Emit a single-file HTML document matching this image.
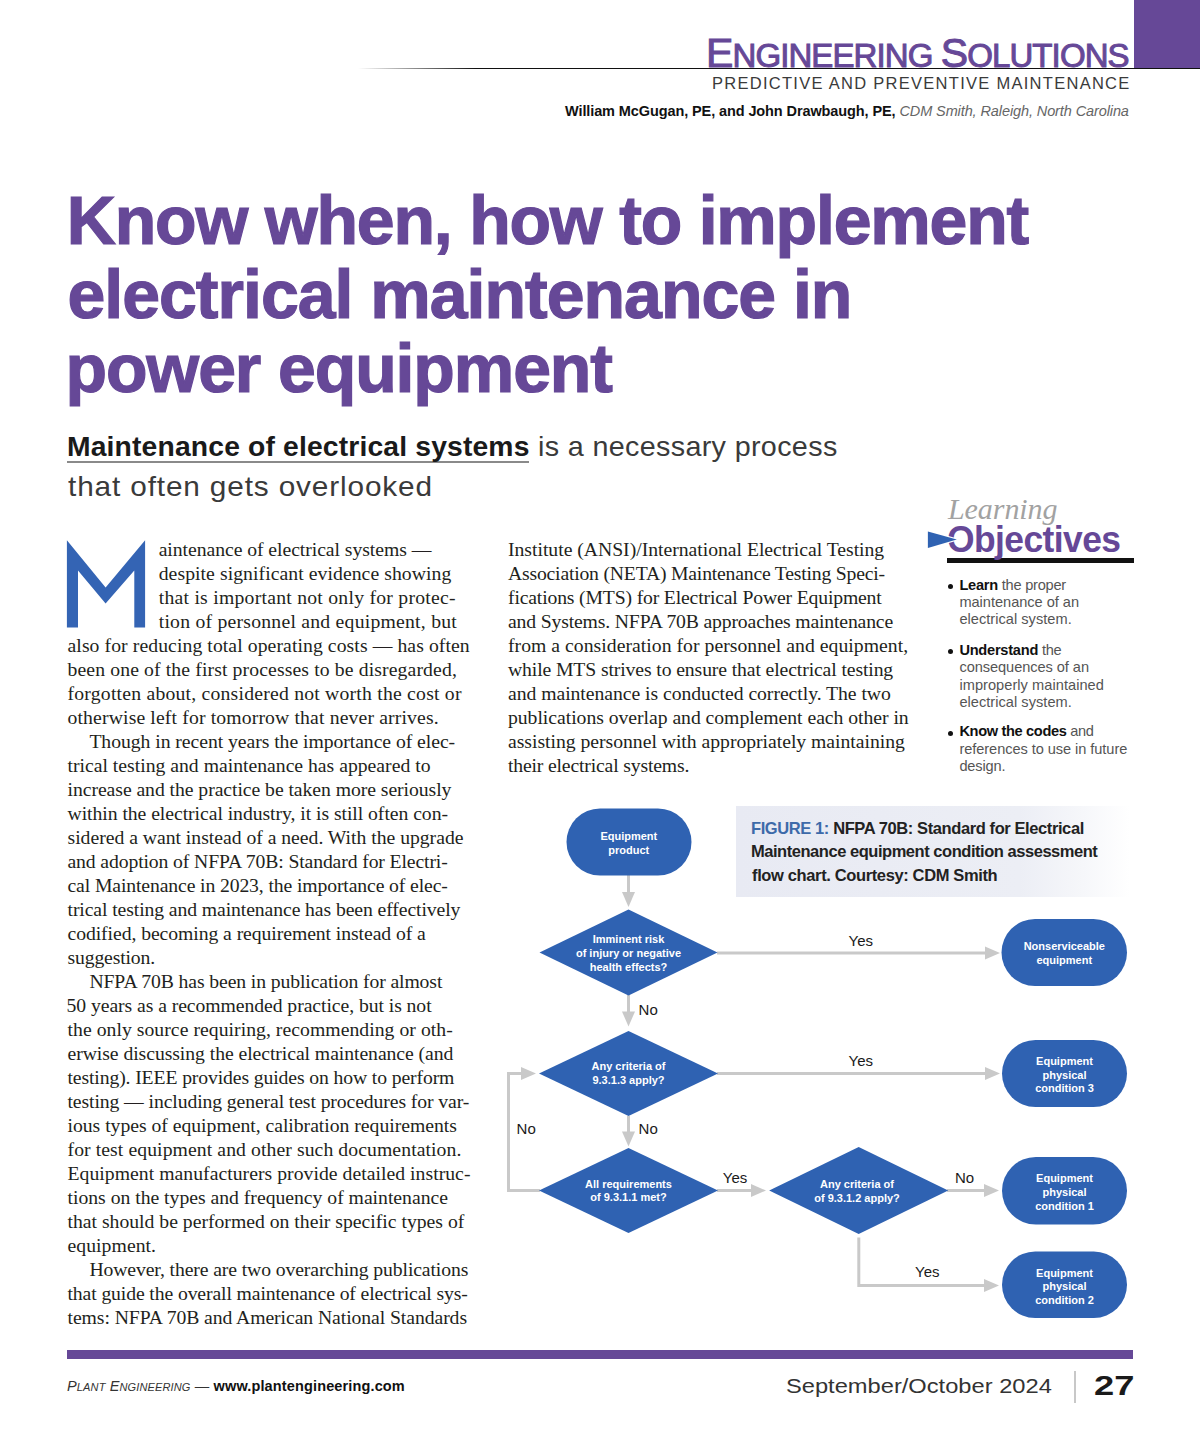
<!DOCTYPE html>
<html><head><meta charset="utf-8"><title>Know when, how to implement electrical maintenance in power equipment</title>
<style>
html,body{margin:0;padding:0;background:#fff;}
body{width:1200px;height:1450px;position:relative;overflow:hidden;}
.t{position:absolute;white-space:pre;line-height:1;}
.r{text-align:right;}
svg{position:absolute;left:0;top:0;}
</style></head><body>

<div style="position:absolute;left:1134px;top:0;width:66px;height:68px;background:#664897"></div>
<div style="position:absolute;left:358px;top:67.5px;width:842px;height:1.6px;background:linear-gradient(90deg,rgba(20,20,20,0),#111 14%,#111)"></div>
<div style="position:absolute;left:736px;top:806px;width:394px;height:91px;background:linear-gradient(90deg,#e8eaf3 0%,#eceef5 72%,#f6f7fa 88%,#fff 100%)"></div>
<div style="position:absolute;left:67px;top:461px;width:462px;height:1.5px;background:#8a8a8a"></div>
<div style="position:absolute;left:947px;top:558px;width:187px;height:5px;background:#111"></div>
<div style="position:absolute;left:948px;top:583.5px;width:5px;height:5px;border-radius:50%;background:#111"></div>
<div style="position:absolute;left:948px;top:648.5px;width:5px;height:5px;border-radius:50%;background:#111"></div>
<div style="position:absolute;left:948px;top:730.5px;width:5px;height:5px;border-radius:50%;background:#111"></div>
<div style="position:absolute;left:67px;top:1350px;width:1066px;height:9px;background:#664897"></div>
<div style="position:absolute;left:1074px;top:1371px;width:1.5px;height:32px;background:#c8c8c8"></div>
<svg width="1200" height="1450" viewBox="0 0 1200 1450" style="position:absolute;left:0;top:0">
<polygon points="66.9,627.6 66.9,540.3 105.6,587.5 145.1,540.3 145.1,627.6 134.3,627.6 134.3,570.6 105.6,603.6 78,570.6 78,627.6" fill="#3464b4"/>
<polyline points="628.5,875.0 628.5,893.0" fill="none" stroke="#c9c9c9" stroke-width="3"/><polygon points="628.5,907.0 622.0,892.0 635.0,892.0" fill="#c9c9c9"/><polyline points="717.0,953.0 986.0,953.0" fill="none" stroke="#c9c9c9" stroke-width="3"/><polygon points="1000.0,953.0 985.0,946.5 985.0,959.5" fill="#c9c9c9"/><polyline points="628.5,995.0 628.5,1012.0" fill="none" stroke="#c9c9c9" stroke-width="3"/><polygon points="628.5,1026.5 622.0,1011.5 635.0,1011.5" fill="#c9c9c9"/><polyline points="717.0,1073.5 986.0,1073.5" fill="none" stroke="#c9c9c9" stroke-width="3"/><polygon points="1000.0,1073.5 985.0,1067.0 985.0,1080.0" fill="#c9c9c9"/><polyline points="628.5,1116.0 628.5,1132.0" fill="none" stroke="#c9c9c9" stroke-width="3"/><polygon points="628.5,1146.5 622.0,1131.5 635.0,1131.5" fill="#c9c9c9"/><polyline points="540.0,1190.5 508.5,1190.5 508.5,1073.5 522.0,1073.5" fill="none" stroke="#c9c9c9" stroke-width="3"/><polygon points="536.0,1073.5 521.0,1067.0 521.0,1080.0" fill="#c9c9c9"/><polyline points="717.0,1190.5 752.0,1190.5" fill="none" stroke="#c9c9c9" stroke-width="3"/><polygon points="766.0,1190.5 751.0,1184.0 751.0,1197.0" fill="#c9c9c9"/><polyline points="947.0,1190.5 985.0,1190.5" fill="none" stroke="#c9c9c9" stroke-width="3"/><polygon points="999.0,1190.5 984.0,1184.0 984.0,1197.0" fill="#c9c9c9"/><polyline points="858.8,1237.5 858.8,1285.5 985.0,1285.5" fill="none" stroke="#c9c9c9" stroke-width="3"/><polygon points="999.0,1285.5 984.0,1279.0 984.0,1292.0" fill="#c9c9c9"/><rect x="566.5" y="808.5" width="125.0" height="67.0" rx="33.5" fill="#2f62b2"/><polygon points="539.5,952.5 628.5,909.5 717.5,952.5 628.5,995.5" fill="#2f62b2"/><rect x="1001.5" y="919.0" width="125.5" height="67.0" rx="33.5" fill="#2f62b2"/><polygon points="539.0,1073.5 628.5,1031.0 718.0,1073.5 628.5,1116.0" fill="#2f62b2"/><rect x="1002.0" y="1040.0" width="125.0" height="67.0" rx="33.5" fill="#2f62b2"/><polygon points="539.0,1190.5 628.5,1148.0 718.0,1190.5 628.5,1233.0" fill="#2f62b2"/><polygon points="769.2,1190.5 858.7,1147.0 948.2,1190.5 858.7,1234.0" fill="#2f62b2"/><rect x="1002.0" y="1157.0" width="125.0" height="67.5" rx="33.8" fill="#2f62b2"/><rect x="1002.0" y="1251.5" width="125.0" height="66.5" rx="33.2" fill="#2f62b2"/><text x="628.8" y="840.3" text-anchor="middle" font-family="Liberation Sans" font-weight="700" font-size="11" fill="#fff">Equipment</text><text x="628.8" y="854.2" text-anchor="middle" font-family="Liberation Sans" font-weight="700" font-size="11" fill="#fff">product</text><text x="628.5" y="942.8" text-anchor="middle" font-family="Liberation Sans" font-weight="700" font-size="11" fill="#fff">Imminent risk</text><text x="628.5" y="956.8" text-anchor="middle" font-family="Liberation Sans" font-weight="700" font-size="11" fill="#fff">of injury or negative</text><text x="628.5" y="970.8" text-anchor="middle" font-family="Liberation Sans" font-weight="700" font-size="11" fill="#fff">health effects?</text><text x="1064.3" y="949.5" text-anchor="middle" font-family="Liberation Sans" font-weight="700" font-size="11" fill="#fff">Nonserviceable</text><text x="1064.3" y="963.5" text-anchor="middle" font-family="Liberation Sans" font-weight="700" font-size="11" fill="#fff">equipment</text><text x="628.5" y="1070.0" text-anchor="middle" font-family="Liberation Sans" font-weight="700" font-size="11" fill="#fff">Any criteria of</text><text x="628.5" y="1084.0" text-anchor="middle" font-family="Liberation Sans" font-weight="700" font-size="11" fill="#fff">9.3.1.3 apply?</text><text x="1064.5" y="1064.8" text-anchor="middle" font-family="Liberation Sans" font-weight="700" font-size="11" fill="#fff">Equipment</text><text x="1064.5" y="1078.5" text-anchor="middle" font-family="Liberation Sans" font-weight="700" font-size="11" fill="#fff">physical</text><text x="1064.5" y="1092.2" text-anchor="middle" font-family="Liberation Sans" font-weight="700" font-size="11" fill="#fff">condition 3</text><text x="628.5" y="1187.7" text-anchor="middle" font-family="Liberation Sans" font-weight="700" font-size="11" fill="#fff">All requirements</text><text x="628.5" y="1201.2" text-anchor="middle" font-family="Liberation Sans" font-weight="700" font-size="11" fill="#fff">of 9.3.1.1 met?</text><text x="857.0" y="1187.5" text-anchor="middle" font-family="Liberation Sans" font-weight="700" font-size="11" fill="#fff">Any criteria of</text><text x="857.0" y="1201.5" text-anchor="middle" font-family="Liberation Sans" font-weight="700" font-size="11" fill="#fff">of 9.3.1.2 apply?</text><text x="1064.5" y="1182.0" text-anchor="middle" font-family="Liberation Sans" font-weight="700" font-size="11" fill="#fff">Equipment</text><text x="1064.5" y="1195.8" text-anchor="middle" font-family="Liberation Sans" font-weight="700" font-size="11" fill="#fff">physical</text><text x="1064.5" y="1209.7" text-anchor="middle" font-family="Liberation Sans" font-weight="700" font-size="11" fill="#fff">condition 1</text><text x="1064.5" y="1276.5" text-anchor="middle" font-family="Liberation Sans" font-weight="700" font-size="11" fill="#fff">Equipment</text><text x="1064.5" y="1290.3" text-anchor="middle" font-family="Liberation Sans" font-weight="700" font-size="11" fill="#fff">physical</text><text x="1064.5" y="1304.2" text-anchor="middle" font-family="Liberation Sans" font-weight="700" font-size="11" fill="#fff">condition 2</text>
</svg>
<div class="t" style="left:706.00px;top:32.79px;color:#664897;font-family:'Liberation Sans', sans-serif;font-size:41px;font-weight:400;font-style:normal;letter-spacing:-0.900px;-webkit-text-stroke:1px #664897;">E<span style="font-size:33px">NGINEERING </span>S<span style="font-size:33px">OLUTIONS</span></div>
<div class="t" style="left:712.00px;top:75.03px;color:#3a3a3a;font-family:'Liberation Sans', sans-serif;font-size:16.5px;font-weight:400;font-style:normal;letter-spacing:1.278px;">PREDICTIVE AND PREVENTIVE MAINTENANCE</div>
<div class="t" style="left:565.00px;top:103.73px;color:#111;font-family:'Liberation Sans', sans-serif;font-size:14.5px;font-weight:400;font-style:normal;letter-spacing:-0.103px;"><b style="color:#111">William McGugan, PE, and John Drawbaugh, PE,</b> <i style="color:#666">CDM Smith, Raleigh, North Carolina</i></div>
<div class="t" style="left:66.80px;top:186.24px;color:#664897;font-family:'Liberation Sans', sans-serif;font-size:68px;font-weight:700;font-style:normal;letter-spacing:-1.200px;-webkit-text-stroke:1.2px #664897;">Know when, how to implement</div>
<div class="t" style="left:67.50px;top:260.44px;color:#664897;font-family:'Liberation Sans', sans-serif;font-size:68px;font-weight:700;font-style:normal;letter-spacing:-0.996px;-webkit-text-stroke:1.2px #664897;">electrical maintenance in</div>
<div class="t" style="left:65.50px;top:334.14px;color:#664897;font-family:'Liberation Sans', sans-serif;font-size:68px;font-weight:700;font-style:normal;letter-spacing:-1.107px;-webkit-text-stroke:1.2px #664897;">power equipment</div>
<div class="t" style="left:67.49px;top:432.60px;color:#1a1a1a;font-family:'Liberation Sans', sans-serif;font-size:28px;font-weight:700;font-style:normal;letter-spacing:0.148px;transform:scaleX(1.0105);transform-origin:0 0;">Maintenance of electrical systems</div>
<div class="t" style="left:537.57px;top:432.60px;color:#3a3a3a;font-family:'Liberation Sans', sans-serif;font-size:28px;font-weight:400;font-style:normal;letter-spacing:0.339px;transform:scaleX(1.0251);transform-origin:0 0;">is a necessary process</div>
<div class="t" style="left:68.00px;top:473.00px;color:#3a3a3a;font-family:'Liberation Sans', sans-serif;font-size:28px;font-weight:400;font-style:normal;letter-spacing:0.809px;transform:scaleX(1.0630);transform-origin:0 0;">that often gets overlooked</div>
<div class="t" style="left:158.70px;top:539.50px;color:#231f20;font-family:'Liberation Serif', serif;font-size:19.7px;font-weight:400;font-style:normal;letter-spacing:-0.052px;">aintenance of electrical systems —</div>
<div class="t" style="left:158.70px;top:563.52px;color:#231f20;font-family:'Liberation Serif', serif;font-size:19.7px;font-weight:400;font-style:normal;letter-spacing:0.066px;">despite significant evidence showing</div>
<div class="t" style="left:158.70px;top:587.54px;color:#231f20;font-family:'Liberation Serif', serif;font-size:19.7px;font-weight:400;font-style:normal;letter-spacing:0.251px;">that is important not only for protec-</div>
<div class="t" style="left:158.70px;top:611.56px;color:#231f20;font-family:'Liberation Serif', serif;font-size:19.7px;font-weight:400;font-style:normal;letter-spacing:0.237px;">tion of personnel and equipment, but</div>
<div class="t" style="left:67.50px;top:635.58px;color:#231f20;font-family:'Liberation Serif', serif;font-size:19.7px;font-weight:400;font-style:normal;letter-spacing:0.084px;">also for reducing total operating costs — has often</div>
<div class="t" style="left:67.50px;top:659.60px;color:#231f20;font-family:'Liberation Serif', serif;font-size:19.7px;font-weight:400;font-style:normal;letter-spacing:0.124px;">been one of the first processes to be disregarded,</div>
<div class="t" style="left:67.50px;top:683.62px;color:#231f20;font-family:'Liberation Serif', serif;font-size:19.7px;font-weight:400;font-style:normal;letter-spacing:0.219px;">forgotten about, considered not worth the cost or</div>
<div class="t" style="left:67.50px;top:707.64px;color:#231f20;font-family:'Liberation Serif', serif;font-size:19.7px;font-weight:400;font-style:normal;letter-spacing:0.141px;">otherwise left for tomorrow that never arrives.</div>
<div class="t" style="left:89.40px;top:731.66px;color:#231f20;font-family:'Liberation Serif', serif;font-size:19.7px;font-weight:400;font-style:normal;letter-spacing:-0.047px;">Though in recent years the importance of elec-</div>
<div class="t" style="left:67.50px;top:755.68px;color:#231f20;font-family:'Liberation Serif', serif;font-size:19.7px;font-weight:400;font-style:normal;letter-spacing:0.000px;">trical testing and maintenance has appeared to</div>
<div class="t" style="left:67.50px;top:779.70px;color:#231f20;font-family:'Liberation Serif', serif;font-size:19.7px;font-weight:400;font-style:normal;letter-spacing:-0.052px;">increase and the practice be taken more seriously</div>
<div class="t" style="left:67.50px;top:803.72px;color:#231f20;font-family:'Liberation Serif', serif;font-size:19.7px;font-weight:400;font-style:normal;letter-spacing:-0.049px;">within the electrical industry, it is still often con-</div>
<div class="t" style="left:67.50px;top:827.74px;color:#231f20;font-family:'Liberation Serif', serif;font-size:19.7px;font-weight:400;font-style:normal;letter-spacing:-0.018px;">sidered a want instead of a need. With the upgrade</div>
<div class="t" style="left:67.50px;top:851.76px;color:#231f20;font-family:'Liberation Serif', serif;font-size:19.7px;font-weight:400;font-style:normal;letter-spacing:-0.122px;">and adoption of NFPA 70B: Standard for Electri-</div>
<div class="t" style="left:67.50px;top:875.78px;color:#231f20;font-family:'Liberation Serif', serif;font-size:19.7px;font-weight:400;font-style:normal;letter-spacing:-0.119px;">cal Maintenance in 2023, the importance of elec-</div>
<div class="t" style="left:67.50px;top:899.80px;color:#231f20;font-family:'Liberation Serif', serif;font-size:19.7px;font-weight:400;font-style:normal;letter-spacing:-0.094px;">trical testing and maintenance has been effectively</div>
<div class="t" style="left:67.50px;top:923.82px;color:#231f20;font-family:'Liberation Serif', serif;font-size:19.7px;font-weight:400;font-style:normal;letter-spacing:-0.068px;">codified, becoming a requirement instead of a</div>
<div class="t" style="left:67.50px;top:947.84px;color:#231f20;font-family:'Liberation Serif', serif;font-size:19.7px;font-weight:400;font-style:normal;letter-spacing:-0.150px;">suggestion.</div>
<div class="t" style="left:89.40px;top:971.86px;color:#231f20;font-family:'Liberation Serif', serif;font-size:19.7px;font-weight:400;font-style:normal;letter-spacing:-0.107px;">NFPA 70B has been in publication for almost</div>
<div class="t" style="left:66.50px;top:995.88px;color:#231f20;font-family:'Liberation Serif', serif;font-size:19.7px;font-weight:400;font-style:normal;letter-spacing:-0.062px;">50 years as a recommended practice, but is not</div>
<div class="t" style="left:67.50px;top:1019.90px;color:#231f20;font-family:'Liberation Serif', serif;font-size:19.7px;font-weight:400;font-style:normal;letter-spacing:0.043px;">the only source requiring, recommending or oth-</div>
<div class="t" style="left:67.50px;top:1043.92px;color:#231f20;font-family:'Liberation Serif', serif;font-size:19.7px;font-weight:400;font-style:normal;letter-spacing:-0.058px;">erwise discussing the electrical maintenance (and</div>
<div class="t" style="left:67.50px;top:1067.94px;color:#231f20;font-family:'Liberation Serif', serif;font-size:19.7px;font-weight:400;font-style:normal;letter-spacing:-0.121px;">testing). IEEE provides guides on how to perform</div>
<div class="t" style="left:67.50px;top:1091.96px;color:#231f20;font-family:'Liberation Serif', serif;font-size:19.7px;font-weight:400;font-style:normal;letter-spacing:-0.100px;">testing — including general test procedures for var-</div>
<div class="t" style="left:67.50px;top:1115.98px;color:#231f20;font-family:'Liberation Serif', serif;font-size:19.7px;font-weight:400;font-style:normal;letter-spacing:-0.021px;">ious types of equipment, calibration requirements</div>
<div class="t" style="left:67.50px;top:1140.00px;color:#231f20;font-family:'Liberation Serif', serif;font-size:19.7px;font-weight:400;font-style:normal;letter-spacing:0.087px;">for test equipment and other such documentation.</div>
<div class="t" style="left:67.50px;top:1164.02px;color:#231f20;font-family:'Liberation Serif', serif;font-size:19.7px;font-weight:400;font-style:normal;letter-spacing:0.035px;">Equipment manufacturers provide detailed instruc-</div>
<div class="t" style="left:67.50px;top:1188.04px;color:#231f20;font-family:'Liberation Serif', serif;font-size:19.7px;font-weight:400;font-style:normal;letter-spacing:-0.013px;">tions on the types and frequency of maintenance</div>
<div class="t" style="left:67.50px;top:1212.06px;color:#231f20;font-family:'Liberation Serif', serif;font-size:19.7px;font-weight:400;font-style:normal;letter-spacing:-0.002px;">that should be performed on their specific types of</div>
<div class="t" style="left:67.50px;top:1236.08px;color:#231f20;font-family:'Liberation Serif', serif;font-size:19.7px;font-weight:400;font-style:normal;letter-spacing:0.056px;">equipment.</div>
<div class="t" style="left:89.40px;top:1260.10px;color:#231f20;font-family:'Liberation Serif', serif;font-size:19.7px;font-weight:400;font-style:normal;letter-spacing:-0.111px;">However, there are two overarching publications</div>
<div class="t" style="left:67.50px;top:1284.12px;color:#231f20;font-family:'Liberation Serif', serif;font-size:19.7px;font-weight:400;font-style:normal;letter-spacing:-0.112px;">that guide the overall maintenance of electrical sys-</div>
<div class="t" style="left:67.50px;top:1308.14px;color:#231f20;font-family:'Liberation Serif', serif;font-size:19.7px;font-weight:400;font-style:normal;letter-spacing:-0.073px;">tems: NFPA 70B and American National Standards</div>
<div class="t" style="left:508.00px;top:540.00px;color:#231f20;font-family:'Liberation Serif', serif;font-size:19.7px;font-weight:400;font-style:normal;letter-spacing:-0.019px;">Institute (ANSI)/International Electrical Testing</div>
<div class="t" style="left:508.00px;top:564.02px;color:#231f20;font-family:'Liberation Serif', serif;font-size:19.7px;font-weight:400;font-style:normal;letter-spacing:-0.200px;">Association (NETA) Maintenance Testing Speci-</div>
<div class="t" style="left:508.00px;top:588.04px;color:#231f20;font-family:'Liberation Serif', serif;font-size:19.7px;font-weight:400;font-style:normal;letter-spacing:-0.162px;">fications (MTS) for Electrical Power Equipment</div>
<div class="t" style="left:508.00px;top:612.06px;color:#231f20;font-family:'Liberation Serif', serif;font-size:19.7px;font-weight:400;font-style:normal;letter-spacing:-0.156px;">and Systems. NFPA 70B approaches maintenance</div>
<div class="t" style="left:508.00px;top:636.08px;color:#231f20;font-family:'Liberation Serif', serif;font-size:19.7px;font-weight:400;font-style:normal;letter-spacing:0.033px;">from a consideration for personnel and equipment,</div>
<div class="t" style="left:508.00px;top:660.10px;color:#231f20;font-family:'Liberation Serif', serif;font-size:19.7px;font-weight:400;font-style:normal;letter-spacing:-0.114px;">while MTS strives to ensure that electrical testing</div>
<div class="t" style="left:508.00px;top:684.12px;color:#231f20;font-family:'Liberation Serif', serif;font-size:19.7px;font-weight:400;font-style:normal;letter-spacing:-0.043px;">and maintenance is conducted correctly. The two</div>
<div class="t" style="left:508.00px;top:708.14px;color:#231f20;font-family:'Liberation Serif', serif;font-size:19.7px;font-weight:400;font-style:normal;letter-spacing:-0.035px;">publications overlap and complement each other in</div>
<div class="t" style="left:508.00px;top:732.16px;color:#231f20;font-family:'Liberation Serif', serif;font-size:19.7px;font-weight:400;font-style:normal;letter-spacing:-0.024px;">assisting personnel with appropriately maintaining</div>
<div class="t" style="left:508.00px;top:756.18px;color:#231f20;font-family:'Liberation Serif', serif;font-size:19.7px;font-weight:400;font-style:normal;letter-spacing:-0.167px;">their electrical systems.</div>
<div class="t" style="left:948.00px;top:494.17px;color:#a2a2a2;font-family:'Liberation Serif', serif;font-size:30px;font-weight:400;font-style:italic;letter-spacing:-0.071px;">Learning</div>
<div class="t" style="left:946.53px;top:521.50px;color:#664897;font-family:'Liberation Sans', sans-serif;font-size:36.5px;font-weight:700;font-style:normal;letter-spacing:-0.592px;transform:scaleX(0.9709);transform-origin:0 0;">Objectives</div>
<div class="t" style="left:959.40px;top:577.64px;color:#555;font-family:'Liberation Sans', sans-serif;font-size:14.6px;font-weight:400;font-style:normal;letter-spacing:-0.240px;"><b style="color:#111">Learn</b> the proper</div>
<div class="t" style="left:959.40px;top:595.04px;color:#555;font-family:'Liberation Sans', sans-serif;font-size:14.6px;font-weight:400;font-style:normal;letter-spacing:-0.025px;">maintenance of an</div>
<div class="t" style="left:959.40px;top:612.44px;color:#555;font-family:'Liberation Sans', sans-serif;font-size:14.6px;font-weight:400;font-style:normal;letter-spacing:0.024px;">electrical system.</div>
<div class="t" style="left:959.40px;top:642.54px;color:#555;font-family:'Liberation Sans', sans-serif;font-size:14.6px;font-weight:400;font-style:normal;letter-spacing:-0.238px;"><b style="color:#111">Understand</b> the</div>
<div class="t" style="left:959.40px;top:660.14px;color:#555;font-family:'Liberation Sans', sans-serif;font-size:14.6px;font-weight:400;font-style:normal;letter-spacing:-0.059px;">consequences of an</div>
<div class="t" style="left:959.40px;top:677.64px;color:#555;font-family:'Liberation Sans', sans-serif;font-size:14.6px;font-weight:400;font-style:normal;letter-spacing:0.045px;">improperly maintained</div>
<div class="t" style="left:959.40px;top:695.04px;color:#555;font-family:'Liberation Sans', sans-serif;font-size:14.6px;font-weight:400;font-style:normal;letter-spacing:0.029px;">electrical system.</div>
<div class="t" style="left:959.40px;top:724.44px;color:#555;font-family:'Liberation Sans', sans-serif;font-size:14.6px;font-weight:400;font-style:normal;letter-spacing:-0.341px;"><b style="color:#111">Know the codes</b> and</div>
<div class="t" style="left:959.40px;top:742.24px;color:#555;font-family:'Liberation Sans', sans-serif;font-size:14.6px;font-weight:400;font-style:normal;letter-spacing:-0.062px;">references to use in future</div>
<div class="t" style="left:959.40px;top:759.44px;color:#555;font-family:'Liberation Sans', sans-serif;font-size:14.6px;font-weight:400;font-style:normal;letter-spacing:-0.167px;">design.</div>
<div class="t" style="left:751.00px;top:819.53px;color:#222;font-family:'Liberation Sans', sans-serif;font-size:16.5px;font-weight:700;font-style:normal;letter-spacing:-0.405px;"><span style="color:#3d6aa9">FIGURE 1:</span> NFPA 70B: Standard for Electrical</div>
<div class="t" style="left:751.00px;top:843.33px;color:#222;font-family:'Liberation Sans', sans-serif;font-size:16.5px;font-weight:700;font-style:normal;letter-spacing:-0.463px;">Maintenance equipment condition assessment</div>
<div class="t" style="left:752.00px;top:866.83px;color:#222;font-family:'Liberation Sans', sans-serif;font-size:16.5px;font-weight:700;font-style:normal;letter-spacing:-0.367px;">flow chart. Courtesy: CDM Smith</div>
<div class="t" style="left:848.50px;top:933.30px;color:#1a1a1a;font-family:'Liberation Sans', sans-serif;font-size:15px;font-weight:400;font-style:normal;letter-spacing:0.000px;">Yes</div>
<div class="t" style="left:638.60px;top:1002.30px;color:#1a1a1a;font-family:'Liberation Sans', sans-serif;font-size:15px;font-weight:400;font-style:normal;letter-spacing:0.000px;">No</div>
<div class="t" style="left:848.60px;top:1052.50px;color:#1a1a1a;font-family:'Liberation Sans', sans-serif;font-size:15px;font-weight:400;font-style:normal;letter-spacing:0.000px;">Yes</div>
<div class="t" style="left:516.60px;top:1121.30px;color:#1a1a1a;font-family:'Liberation Sans', sans-serif;font-size:15px;font-weight:400;font-style:normal;letter-spacing:0.000px;">No</div>
<div class="t" style="left:638.60px;top:1121.30px;color:#1a1a1a;font-family:'Liberation Sans', sans-serif;font-size:15px;font-weight:400;font-style:normal;letter-spacing:0.000px;">No</div>
<div class="t" style="left:722.80px;top:1170.30px;color:#1a1a1a;font-family:'Liberation Sans', sans-serif;font-size:15px;font-weight:400;font-style:normal;letter-spacing:0.000px;">Yes</div>
<div class="t" style="left:955.00px;top:1170.30px;color:#1a1a1a;font-family:'Liberation Sans', sans-serif;font-size:15px;font-weight:400;font-style:normal;letter-spacing:0.000px;">No</div>
<div class="t" style="left:915.00px;top:1264.30px;color:#1a1a1a;font-family:'Liberation Sans', sans-serif;font-size:15px;font-weight:400;font-style:normal;letter-spacing:0.000px;">Yes</div>
<div class="t" style="left:67.00px;top:1379.43px;color:#111;font-family:'Liberation Sans', sans-serif;font-size:14.5px;font-weight:400;font-style:normal;letter-spacing:0.140px;"><i style="color:#333">P<span style="font-size:11px">LANT</span> E<span style="font-size:11px">NGINEERING</span></i> <span style="color:#333">—</span> <b>www.plantengineering.com</b></div>
<div class="t" style="left:786.32px;top:1376.27px;color:#333;font-family:'Liberation Sans', sans-serif;font-size:20px;font-weight:400;font-style:normal;letter-spacing:0.000px;transform:scaleX(1.1835);transform-origin:0 0;">September/October 2024</div>
<div class="t" style="left:1094.40px;top:1372.00px;color:#1a1a1a;font-family:'Liberation Sans', sans-serif;font-size:28px;font-weight:700;font-style:normal;letter-spacing:0.000px;transform:scaleX(1.2967);transform-origin:0 0;">27</div>
<svg width="1200" height="1450" style="position:absolute;left:0;top:0"><polygon points="927.9,531.4 956.8,539.6 927.9,548" fill="#2f62b2" stroke="#fff" stroke-width="2.2" paint-order="stroke"/></svg>
</body></html>
